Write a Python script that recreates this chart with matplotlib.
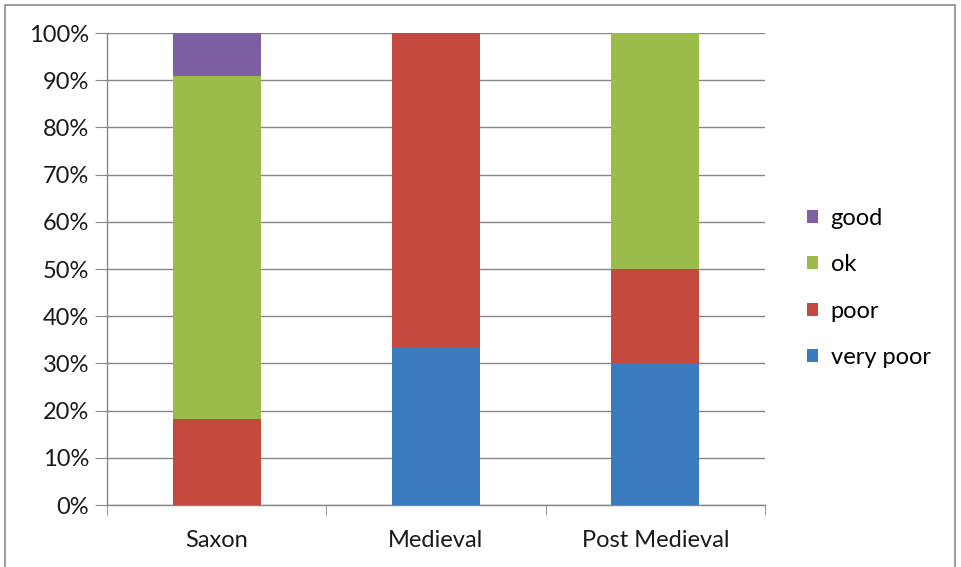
import matplotlib
matplotlib.use("Agg")
import matplotlib.pyplot as plt
from matplotlib.patches import Rectangle, Patch
from matplotlib.ticker import FixedLocator, PercentFormatter

periods = ["Saxon", "Medieval", "Post Medieval"]
# counts per condition class (stacked bottom to top)
very_poor = [0, 1, 3]
poor = [2, 2, 2]
ok = [8, 0, 5]
good = [1, 0, 0]

series = [("very poor", very_poor, "#3B7BBF"),
          ("poor", poor, "#C5493E"),
          ("ok", ok, "#9BBB4A"),
          ("good", good, "#7F5FA3")]

plt.rcParams["font.family"] = ["Lato", "DejaVu Sans"]
FS = 17

W, H = 961, 567
fig = plt.figure(figsize=(W / 100, H / 100), dpi=100)
ax = fig.add_axes([107 / W, 1 - 505 / H, (765 - 107) / W, (505 - 33) / H])

totals = [sum(s[1][i] for s in series) for i in range(len(periods))]
x = list(range(len(periods)))
bottoms = [0.0] * len(periods)
for name, vals, color in series:
    pct = [v / t * 100 for v, t in zip(vals, totals)]
    ax.bar(x, pct, width=0.4, bottom=bottoms, color=color, zorder=3)
    bottoms = [b + p for b, p in zip(bottoms, pct)]

ax.set_xlim(-0.5, len(periods) - 0.5)
ax.set_ylim(0, 100)
ax.yaxis.set_major_locator(FixedLocator(range(0, 101, 10)))
ax.yaxis.set_major_formatter(PercentFormatter(decimals=0))
ax.set_xticks(x)
ax.set_xticklabels(periods)
ax.xaxis.set_minor_locator(FixedLocator([-0.5, 0.5, 1.5, 2.5]))

grid_c = "#878787"
ax.grid(axis="y", color=grid_c, linewidth=1, zorder=0)
for side in ("top", "right"):
    ax.spines[side].set_visible(False)
for side in ("left", "bottom"):
    ax.spines[side].set_color(grid_c)
    ax.spines[side].set_linewidth(1)

ax.tick_params(axis="y", length=9, color=grid_c, labelsize=FS, pad=4, labelcolor="#1a1a1a")
ax.tick_params(axis="x", which="major", length=0, labelsize=FS, pad=18, labelcolor="#1a1a1a")
ax.tick_params(axis="x", which="minor", length=7, color=grid_c)

handles = [Patch(facecolor=c, label=n) for n, _, c in reversed(series)]
fig.legend(handles=handles, loc="center left", bbox_to_anchor=(807 / W, 1 - 288 / H),
           frameon=False, fontsize=FS, handlelength=0.45, handleheight=0.45,
           handletextpad=0.55, labelspacing=1.08, borderpad=0, borderaxespad=0)

# outer chart frame
fig.patches.append(Rectangle((5 / W, -0.1), (955 - 5) / W, 1.1 - 5 / H,
                             transform=fig.transFigure, fill=False,
                             edgecolor="#8c8c8c", linewidth=1.2))

fig.savefig("out.png", dpi=100)
